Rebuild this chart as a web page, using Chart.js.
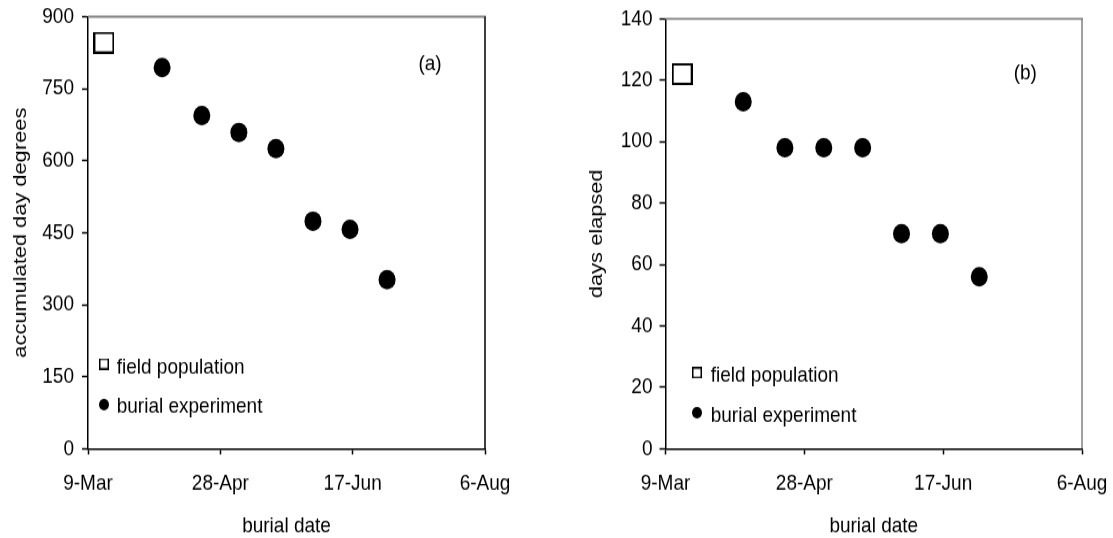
<!DOCTYPE html>
<html><head><meta charset="utf-8">
<script src="https://cdn.jsdelivr.net/npm/chart.js@4.4.1/dist/chart.umd.min.js"></script>
<style>
html,body{margin:0;padding:0;background:#fff;overflow:hidden;}
#wrap{position:relative;width:1113px;height:538px;background:#fff;}
canvas{position:absolute;top:0;}
#ca{left:0;width:556px;height:538px;} #cb{left:556px;width:557px;height:538px;}
</style></head><body>
<div id="wrap"><canvas id="ca" width="556" height="468" style="width:556px;height:538px"></canvas><canvas id="cb" width="557" height="468" style="width:557px;height:538px"></canvas></div>
<script>
// ---- data (x values are day of year) ----
const xTickLabels = ['9-Mar', '28-Apr', '17-Jun', '6-Aug'];
const xTickDays = [68, 118, 168, 218];
const fieldDay = [74];
const burialDays = [96, 111, 125, 139, 153, 167, 181];
const fieldDegreeDays = [846];
const burialDegreeDays = [794, 694, 659, 625, 474, 457, 352];
const fieldDaysElapsed = [122];
const burialDaysElapsed = [113, 98, 98, 98, 70, 70, 56];
const legendLabels = ['field population', 'burial experiment'];
const panelLabels = ['(a)', '(b)'];
const yTitles = ['accumulated day degrees', 'days elapsed'];
const xTitle = 'burial date';

const FONT_FAMILY = '"Liberation Sans", Arial, Helvetica, sans-serif';
const font = {family: FONT_FAMILY, size: 19, lineHeight: 1};

function ellipseImg(w, h) {
  const c = document.createElement('canvas'); c.width = w; c.height = h;
  const g = c.getContext('2d'); g.fillStyle = '#000';
  g.beginPath(); g.ellipse(w / 2, h / 2, w / 2, h / 2, 0, 0, Math.PI * 2); g.fill();
  return c;
}
function squareImg(w, h, lw) {
  const c = document.createElement('canvas'); c.width = w; c.height = h;
  const g = c.getContext('2d'); g.fillStyle = '#fff'; g.fillRect(0, 0, w, h);
  g.strokeStyle = '#000'; g.lineWidth = lw; g.strokeRect(lw / 2, lw / 2, w - lw, h - lw);
  return c;
}
const bigSquare = squareImg(21, 19, 2);
const smallDot = ellipseImg(10, 10);
const smallSquare = squareImg(10, 10, 1.5);

const overlay = {
  id: 'overlay',
  afterDraw(chart, args, o) {
    const ctx = chart.ctx, a = chart.chartArea;
    ctx.save();
    ctx.strokeStyle = '#808080'; ctx.lineWidth = 1.8;
    ctx.beginPath(); ctx.moveTo(a.left, a.top); ctx.lineTo(a.right + 1, a.top); ctx.stroke();
    ctx.strokeStyle = o.rightColor; ctx.lineWidth = 1.5;
    ctx.beginPath(); ctx.moveTo(a.right, a.top); ctx.lineTo(a.right, a.bottom); ctx.stroke();
    ctx.font = '19px ' + FONT_FAMILY; ctx.fillStyle = '#000';
    ctx.textAlign = 'center'; ctx.textBaseline = 'middle';
    ctx.fillText(o.panel, o.panelX, o.panelY);
    ctx.textAlign = 'left'; ctx.textBaseline = 'alphabetic';
    legendLabels.forEach((t, i) => {
      const img = i === 0 ? smallSquare : smallDot;
      ctx.drawImage(img, o.markX - img.width / 2, o.markY[i] - img.height / 2);
      ctx.fillText(t, o.textX, o.textY[i]);
    });
    ctx.restore();
  }
};

function makeChart(id, idx, fieldVals, burialVals, yMax, yStep, cfg) {
  const pts = (xs, ys) => xs.map((x, i) => ({x: x, y: ys[i]}));
  const gridX = {display: true, drawOnChartArea: false, drawTicks: true, tickLength: 5, tickColor: '#000', tickWidth: 1.5};
  const gridY = {display: true, drawOnChartArea: false, drawTicks: true, tickLength: 6, tickColor: '#000', tickWidth: 1.5};
  const borderOpts = {display: true, color: '#000', width: 1.5};
  return new Chart(document.getElementById(id), {
    type: 'scatter',
    data: {
      datasets: [
        {label: legendLabels[0], data: pts(fieldDay, fieldVals), pointStyle: bigSquare, pointRadius: 11, pointHoverRadius: 11},
        {label: legendLabels[1], data: pts(burialDays, burialVals), pointStyle: 'circle', pointRadius: 8.5, pointHoverRadius: 8.5,
         backgroundColor: '#000', borderColor: '#000', pointBorderWidth: 0, borderWidth: 0}
      ]
    },
    options: {
      responsive: false, animation: false, devicePixelRatio: 1,
      layout: {padding: cfg.padding},
      plugins: {legend: {display: false}, tooltip: {enabled: false}, overlay: cfg.overlay},
      scales: {
        x: {
          type: 'linear', min: xTickDays[0], max: xTickDays[xTickDays.length - 1],
          afterBuildTicks: s => { s.ticks = xTickDays.map(v => ({value: v})); },
          ticks: {callback: v => xTickLabels[xTickDays.indexOf(v)], padding: 15.5, font: font, color: '#000', maxRotation: 0, autoSkip: false},
          grid: gridX, border: borderOpts,
          title: {display: true, text: xTitle, font: font, color: '#000', padding: {top: 0, bottom: 0.5}},
          afterFit: s => { s.height = cfg.xHeight; s.paddingLeft = 0; s.paddingRight = 0; }
        },
        y: {
          min: 0, max: yMax,
          ticks: {stepSize: yStep, padding: cfg.tickPad, font: font, color: '#000'},
          grid: gridY, border: borderOpts,
          title: {display: true, text: yTitles[idx], font: font, color: '#000', padding: {top: cfg.titlePad, bottom: 0}},
          afterFit: s => { s.width = cfg.yWidth; s.paddingTop = 0; s.paddingBottom = 0; }
        }
      }
    },
    plugins: [overlay]
  });
}

makeChart('ca', 0, fieldDegreeDays, burialDegreeDays, 900, 150, {
  padding: {top: 14.5, right: 71, bottom: 0, left: 0}, xHeight: 77.7, yWidth: 88, tickPad: 8, titlePad: 11,
  overlay: {rightColor: '#000', panel: panelLabels[0], panelX: 430, panelY: 55.7,
    markX: 104, markY: [316.5, 351.9], textX: 116.7, textY: [324.6, 359.4]}
});
makeChart('cb', 1, fieldDaysElapsed, burialDaysElapsed, 140, 20, {
  padding: {top: 16.3, right: 31, bottom: 0, left: 0}, xHeight: 77.7, yWidth: 109.5, tickPad: 7, titlePad: 31.5,
  overlay: {rightColor: '#808080', panel: panelLabels[1], panelX: 469.3, panelY: 63.7,
    markX: 141, markY: [324.3, 358.9], textX: 154.7, textY: [331.9, 366.7]}
});
</script>
</body></html>
